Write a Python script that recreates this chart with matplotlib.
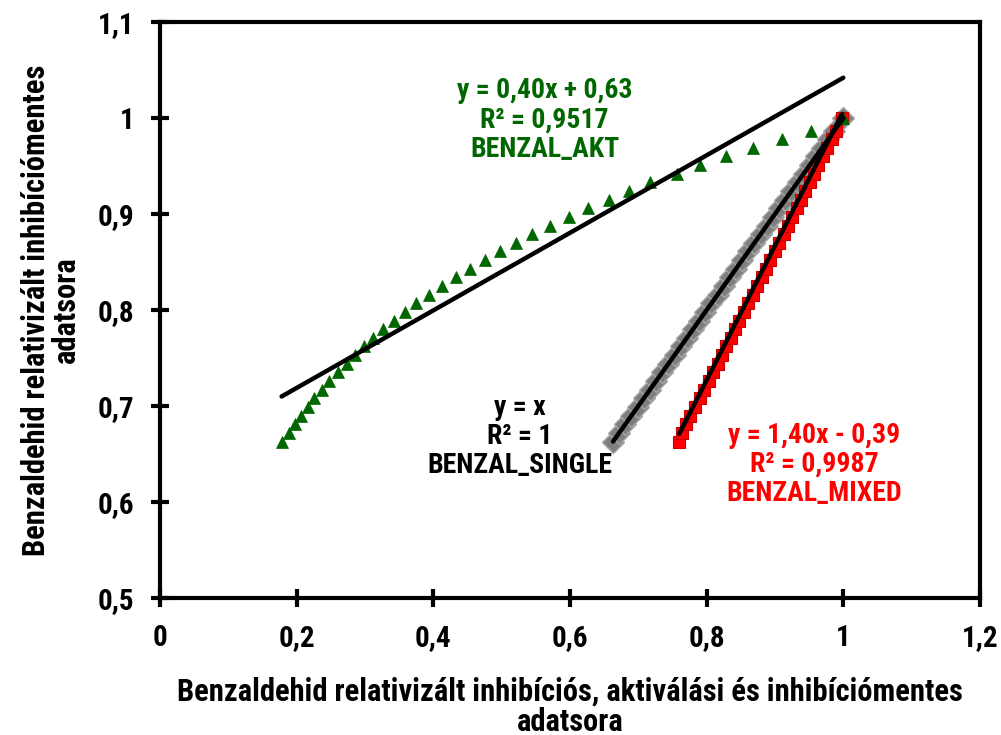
import matplotlib
matplotlib.use("Agg")
import matplotlib.pyplot as plt
import numpy as np

plt.rcParams['font.family'] = ['Roboto Condensed', 'DejaVu Sans']

# ---- data ----
akt_x = [0.178, 0.189, 0.198, 0.207, 0.216, 0.226, 0.237, 0.248, 0.260, 0.273,
         0.285, 0.298, 0.312, 0.327, 0.342, 0.358, 0.374, 0.394, 0.413, 0.433,
         0.453, 0.475, 0.497, 0.521, 0.545, 0.571, 0.599, 0.627, 0.657, 0.687,
         0.717, 0.757, 0.791, 0.829, 0.868, 0.910, 0.952, 1.000]
akt_y = [0.663, 0.672, 0.681, 0.690, 0.699, 0.708, 0.717, 0.726, 0.735, 0.744,
         0.753, 0.762, 0.771, 0.780, 0.789, 0.798, 0.807, 0.816, 0.825, 0.834,
         0.843, 0.852, 0.861, 0.870, 0.879, 0.888, 0.897, 0.906, 0.915, 0.924,
         0.933, 0.942, 0.951, 0.960, 0.969, 0.978, 0.987, 1.000]
single_x = list(akt_y)
single_y = list(akt_y)
mixed_x = [0.760, 0.764, 0.770, 0.776, 0.783, 0.790, 0.796, 0.803, 0.809, 0.816,
           0.822, 0.829, 0.835, 0.842, 0.848, 0.855, 0.861, 0.868, 0.874, 0.881,
           0.887, 0.893, 0.900, 0.906, 0.913, 0.919, 0.925, 0.932, 0.938, 0.944,
           0.951, 0.957, 0.963, 0.970, 0.976, 0.983, 0.990, 0.998]
mixed_y = list(akt_y)

# trendline coefficients (slope, intercept)
akt_fit = (0.404, 0.638)
single_fit = (1.0, 0.0)
mixed_fit = (1.40, -0.393)

x_ticks = [0, 0.2, 0.4, 0.6, 0.8, 1.0, 1.2]
x_ticklabels = ['0', '0,2', '0,4', '0,6', '0,8', '1', '1,2']
y_ticks = [0.5, 0.6, 0.7, 0.8, 0.9, 1.0, 1.1]
y_ticklabels = ['0,5', '0,6', '0,7', '0,8', '0,9', '1', '1,1']

x_label = 'Benzaldehid relativizált inhibíciós, aktiválási és inhibíciómentes\nadatsora'
y_label = 'Benzaldehid relativizált inhibíciómentes\nadatsora'

akt_text = 'y = 0,40x + 0,63\nR² = 0,9517\nBENZAL_AKT'
single_text = 'y = x\nR² = 1\nBENZAL_SINGLE'
mixed_text = 'y = 1,40x - 0,39\nR² = 0,9987\nBENZAL_MIXED'

# ---- figure ----
FS = 20
fig = plt.figure(figsize=(10.01, 7.35), dpi=100)
ax = fig.add_axes([0.1598, 0.1864, 0.979 - 0.1598, 0.970 - 0.1864])

GREEN = '#006600'
RED = '#FF0000'

ax.plot(single_x, single_y, linestyle='none', marker='D', markersize=11,
        markerfacecolor='#7F7F7F', markeredgecolor='#A6A6A6', markeredgewidth=1, zorder=2)
ax.plot(mixed_x, mixed_y, linestyle='none', marker='s', markersize=9,
        markerfacecolor=RED, markeredgecolor='#C80000', markeredgewidth=0.8, zorder=3)
ax.plot(akt_x, akt_y, linestyle='none', marker='^', markersize=9,
        markerfacecolor=GREEN, markeredgecolor=GREEN, markeredgewidth=0.5, zorder=4)

for xs, fit in ((akt_x, akt_fit), (single_x, single_fit), (mixed_x, mixed_fit)):
    xr = np.array([min(xs), max(xs)])
    ax.plot(xr, fit[0] * xr + fit[1], color='black', linewidth=3.2,
            solid_capstyle='round', zorder=5)

ax.set_xlim(0, 1.2)
ax.set_ylim(0.5, 1.1)
ax.set_xticks(x_ticks)
ax.set_xticklabels(x_ticklabels)
ax.set_yticks(y_ticks)
ax.set_yticklabels(y_ticklabels)
for s in ax.spines.values():
    s.set_linewidth(3)
ax.tick_params(direction='inout', length=13, width=3, labelsize=21)
for lab in ax.get_xticklabels() + ax.get_yticklabels():
    lab.set_fontweight('bold')
ax.tick_params(axis='x', pad=12)
ax.tick_params(axis='y', pad=12)

ax.set_xlabel(x_label, fontsize=22, fontweight='bold', labelpad=18, linespacing=1.0)
ax.set_ylabel(y_label, fontsize=22, fontweight='bold', labelpad=12, linespacing=1.0)

ax.text(0.563, 0.998, akt_text, color=GREEN, fontsize=FS, fontweight='bold',
        ha='center', va='center', linespacing=1.1)
ax.text(0.526, 0.668, single_text, color='black', fontsize=FS, fontweight='bold',
        ha='center', va='center', linespacing=1.1)
ax.text(0.957, 0.639, mixed_text, color=RED, fontsize=FS, fontweight='bold',
        ha='center', va='center', linespacing=1.1)

fig.savefig('out.png', dpi=100)
